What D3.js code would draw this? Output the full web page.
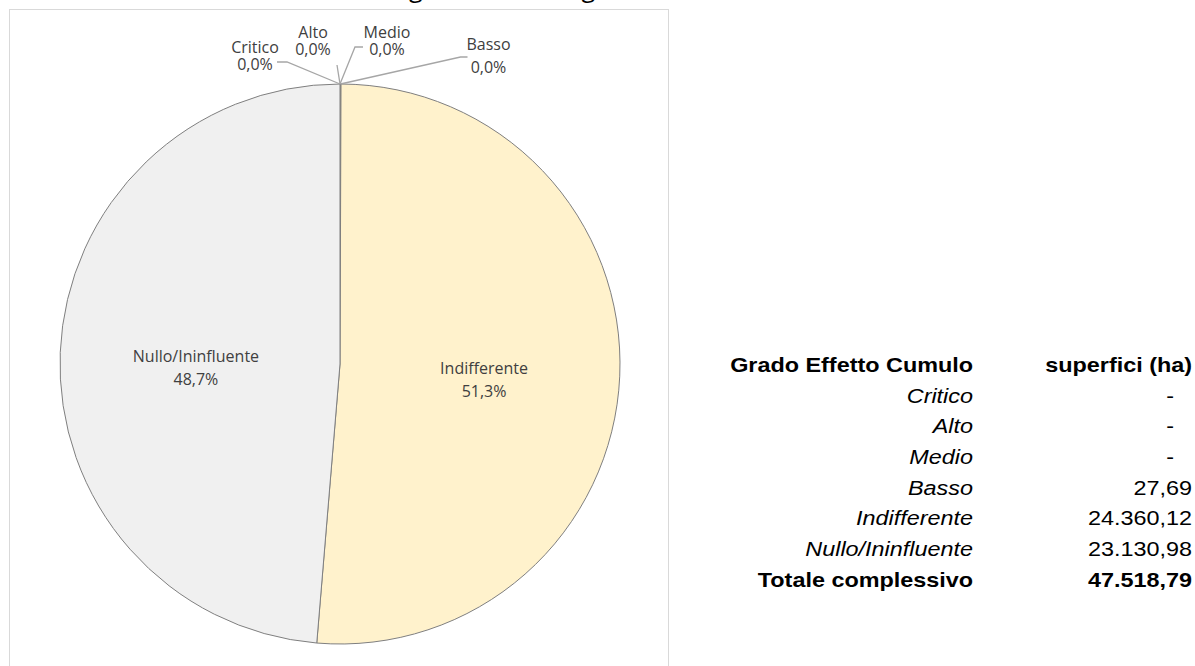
<!DOCTYPE html>
<html>
<head>
<meta charset="utf-8">
<script src="https://cdn.jsdelivr.net/npm/d3@7"></script>
<style>
  html, body { margin: 0; padding: 0; background: #ffffff; }
  svg { display: block; }
</style>
</head>
<body>
<svg id="chart" width="1195" height="666"></svg>
<script>
// ---- data ----
const titleText = "Aree agricole e loro grado di effetto cumulo";
const categories = ["Critico", "Alto", "Medio", "Basso", "Indifferente", "Nullo/Ininfluente"];
const values = [0, 0, 0, 27.69, 24360.12, 23130.98];
const pctLabels = ["0,0%", "0,0%", "0,0%", "0,0%", "51,3%", "48,7%"];
const sliceColors = ["#C00000", "#ED7D31", "#FFC000", "#FFE699", "#FFF2CC", "#F0F0F0"];
const tableHeader = ["Grado Effetto Cumulo", "superfici (ha)"];
const totalLabel = "Totale complessivo";

// ---- setup ----
const svg = d3.select("#chart");
const W = 1195, H = 666;
const cx = 340, cy = 364, R = 280;

const itLocale = d3.formatLocale({ decimal: ",", thousands: ".", grouping: [3], currency: ["", " €"] });
const fmtNum = itLocale.format(",.2f");

// chart area border
svg.append("rect")
  .attr("x", 9.5).attr("y", 9.5)
  .attr("width", 659).attr("height", H + 20)
  .attr("fill", "none").attr("stroke", "#D9D9D9").attr("stroke-width", 1);

// title (mostly above the visible area, only the descenders show)
const title = svg.append("text")
  .attr("x", 0).attr("y", -3.5)
  .attr("font-family", "Open Sans, sans-serif")
  .attr("font-size", 25)
  .attr("letter-spacing", 1)
  .attr("fill", "#000000")
  .text(titleText);
{
  const node = title.node();
  const gi = titleText.indexOf("g");
  const gx = node.getStartPositionOfChar(gi).x;
  title.attr("x", 415 - gx - 6);
}

// ---- pie ----
const data = categories.map((c, i) => ({ cat: c, value: values[i], pct: pctLabels[i], color: sliceColors[i] }));
const pie = d3.pie().value(d => d.value).sort(null).startAngle(0).endAngle(2 * Math.PI);
const arcs = pie(data);
const arc = d3.arc().innerRadius(0).outerRadius(R);
const labelArc = d3.arc().innerRadius(R * 0.515).outerRadius(R * 0.515);

const g = svg.append("g").attr("transform", `translate(${cx},${cy})`);

g.selectAll("path.slice")
  .data(arcs.filter(a => a.endAngle - a.startAngle > 0))
  .join("path")
  .attr("class", "slice")
  .attr("d", arc)
  .attr("fill", d => d.data.color)
  .attr("stroke", "#7F7F7F")
  .attr("stroke-width", 1)
  .attr("stroke-linejoin", "round");

const labelFont = "Open Sans, sans-serif";
const labelColor = "#404040";
const labelSize = 16;

// big slices: inside labels
arcs.filter(a => (a.endAngle - a.startAngle) > 0.5).forEach(a => {
  const [x, y] = labelArc.centroid(a);
  const t = g.append("text")
    .attr("font-family", labelFont).attr("font-size", labelSize)
    .attr("fill", labelColor).attr("text-anchor", "middle");
  t.append("tspan").attr("x", x).attr("y", y + 4).text(a.data.cat);
  t.append("tspan").attr("x", x).attr("y", y + 27).text(a.data.pct);
});

// small slices: outside labels with leader lines (offsets from the slice's outer point)
const smallLayout = {
  "Critico": { line: [[-53, -22], [-63, -22]], lx: -85, b1: -31, b2: -14 },
  "Alto":    { line: [[-3, -19]],              lx: -27, b1: -46, b2: -29 },
  "Medio":   { line: [[15, -37], [23, -37]],   lx: 47,  b1: -46, b2: -29 },
  "Basso":   { line: [[120, -27], [127, -27]], lx: 148, b1: -34, b2: -11 }
};
arcs.filter(a => smallLayout[a.data.cat]).forEach(a => {
  const L = smallLayout[a.data.cat];
  const mid = (a.startAngle + a.endAngle) / 2;
  const p0 = [R * Math.sin(mid), -R * Math.cos(mid)];
  const pts = [p0].concat(L.line.map(o => [p0[0] + o[0], p0[1] + o[1]]));
  g.append("path")
    .attr("d", d3.line()(pts))
    .attr("fill", "none").attr("stroke", "#A6A6A6").attr("stroke-width", 1.3);
  const t = g.append("text")
    .attr("font-family", labelFont).attr("font-size", labelSize)
    .attr("fill", labelColor).attr("text-anchor", "middle");
  t.append("tspan").attr("x", p0[0] + L.lx).attr("y", p0[1] + L.b1).text(a.data.cat);
  t.append("tspan").attr("x", p0[0] + L.lx).attr("y", p0[1] + L.b2).text(a.data.pct);
});

// ---- table ----
const sx = 1.2;
const col1 = 973, col2 = 1192, dashX = 1174;
const row0 = 372, rowStep = 30.7;
const tg = svg.append("g").attr("transform", `scale(${sx},1)`)
  .attr("font-family", "Liberation Sans, Arial, sans-serif")
  .attr("font-size", 19.5).attr("fill", "#000");

function cell(x, y, txt, opts) {
  tg.append("text")
    .attr("x", x / sx).attr("y", y)
    .attr("text-anchor", "end")
    .attr("font-weight", opts.bold ? "bold" : "normal")
    .attr("font-style", opts.italic ? "italic" : "normal")
    .text(txt);
}
cell(col1, row0, tableHeader[0], { bold: true });
cell(col2, row0, tableHeader[1], { bold: true });
categories.forEach((c, i) => {
  const y = row0 + rowStep * (i + 1);
  cell(col1, y, c, { italic: true });
  if (values[i] === 0) cell(dashX, y, "-", {});
  else cell(col2, y, fmtNum(values[i]), {});
});
const total = d3.sum(values);
const yT = row0 + rowStep * (categories.length + 1);
cell(col1, yT, totalLabel, { bold: true });
cell(col2, yT, fmtNum(total), { bold: true });
</script>
</body>
</html>
